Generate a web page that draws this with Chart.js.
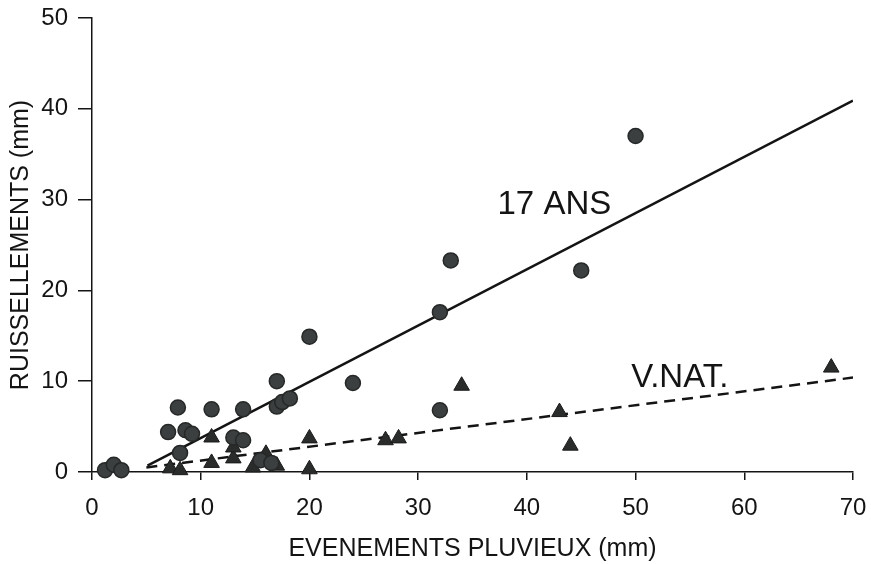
<!DOCTYPE html>
<html>
<head>
<meta charset="utf-8">
<script src="https://cdn.jsdelivr.net/npm/chart.js@4/dist/chart.umd.min.js"></script>
<style>
  html, body { margin: 0; padding: 0; background: #fff; }
  #wrap { width: 871px; height: 564px; }
</style>
</head>
<body>
<div id="wrap"><canvas id="chart"></canvas></div>
<script>
// 17 ANS plot (circles)
const ansX = [1.2, 2, 2.7, 7, 7.9, 8.1, 8.6, 9.2, 11, 13, 13.9, 13.9, 15.5, 16.5, 17, 17, 17.5, 18.2, 20, 24, 32, 32, 33, 45, 50];
const ansY = [0.2, 0.8, 0.2, 4.4, 7.1, 2.1, 4.6, 4.2, 6.9, 3.8, 3.5, 6.9, 1.3, 1.0, 10.0, 7.2, 7.7, 8.1, 14.9, 9.8, 17.6, 6.8, 23.3, 22.2, 37.0];

// V.NAT. plot (triangles)
const natX = [7.2, 8.1, 11, 11, 13, 13, 14.8, 16, 17, 20, 20, 27, 28.2, 34, 43, 44, 68];
const natY = [0.4, 0.2, 3.8, 1.0, 1.5, 2.7, 0.5, 2.0, 0.7, 3.7, 0.3, 3.5, 3.7, 9.5, 6.6, 2.9, 11.5];

// fitted lines, endpoints
const ansFitX = [5.1, 70];
const ansFitY = [0.7, 40.9];
const natFitX = [5, 70];
const natFitY = [0.5, 10.4];

const xTicks = [0, 10, 20, 30, 40, 50, 60, 70];
const yTicks = [0, 10, 20, 30, 40, 50];

const FONT = '"Liberation Sans", Arial, Helvetica, sans-serif';
const INK = '#141414';

const pts = (xs, ys) => xs.map((x, i) => ({ x, y: ys[i] }));

// text labels placed at data coords
const curveLabels = [
  { text: '17 ANS', x: 37.3, y: 28.4 },
  { text: 'V.NAT.', x: 49.6, y: 9.35 }
];

const curveLabelPlugin = {
  id: 'curveLabels',
  afterDatasetsDraw(chart) {
    const { ctx, scales } = chart;
    ctx.save();
    ctx.fillStyle = INK;
    ctx.font = '33px ' + FONT;
    ctx.textAlign = 'left';
    ctx.textBaseline = 'alphabetic';
    curveLabels.forEach(l => {
      ctx.fillText(l.text, scales.x.getPixelForValue(l.x), scales.y.getPixelForValue(l.y));
    });
    ctx.restore();
  }
};

new Chart(document.getElementById('chart'), {
  type: 'scatter',
  data: {
    datasets: [
      {
        label: '17 ANS fit',
        data: pts(ansFitX, ansFitY),
        showLine: true,
        borderColor: INK,
        borderWidth: 2.5,
        pointRadius: 0,
        order: 3
      },
      {
        label: 'V.NAT. fit',
        data: pts(natFitX, natFitY),
        showLine: true,
        borderColor: INK,
        borderWidth: 2.5,
        borderDash: [11, 7],
        pointRadius: 0,
        order: 3
      },
      {
        label: '17 ANS',
        data: pts(ansX, ansY),
        pointStyle: 'circle',
        pointRadius: 7.5,
        backgroundColor: '#3b3f3f',
        borderColor: '#262828',
        borderWidth: 1.5,
        clip: false,
        order: 1
      },
      {
        label: 'V.NAT.',
        data: pts(natX, natY),
        pointStyle: 'triangle',
        pointRadius: 9,
        backgroundColor: '#2a2c2c',
        borderColor: '#1a1a1a',
        borderWidth: 1,
        clip: false,
        order: 2
      }
    ]
  },
  options: {
    responsive: true,
    maintainAspectRatio: false,
    animation: false,
    layout: { padding: { top: 18, right: 18, left: 0, bottom: 0 } },
    plugins: {
      legend: { display: false },
      tooltip: { enabled: false }
    },
    scales: {
      x: {
        type: 'linear',
        min: 0,
        max: 70,
        afterBuildTicks: (s) => { s.ticks = xTicks.map(v => ({ value: v })); },
        afterFit: (s) => {
          s.height = 92;
          s.paddingLeft = 0;
          s.paddingRight = 0;
        },
        border: { color: INK, width: 1.5 },
        grid: { drawOnChartArea: false, color: INK, lineWidth: 1.5, tickLength: 8 },
        ticks: { color: INK, font: { family: FONT, size: 24 }, padding: 14, maxRotation: 0 },
        title: {
          display: true,
          text: 'EVENEMENTS PLUVIEUX (mm)',
          color: INK,
          font: { family: FONT, size: 25 },
          padding: { top: 0, bottom: 0 }
        }
      },
      y: {
        type: 'linear',
        min: 0,
        max: 50,
        afterBuildTicks: (s) => { s.ticks = yTicks.map(v => ({ value: v })); },
        afterFit: (s) => {
          s.width = 92;
          s.paddingTop = 0;
          s.paddingBottom = 0;
        },
        border: { color: INK, width: 1.5 },
        grid: { drawOnChartArea: false, color: INK, lineWidth: 1.5, tickLength: 14 },
        ticks: { color: INK, font: { family: FONT, size: 24 }, padding: 10 },
        title: {
          display: true,
          text: 'RUISSELLEMENTS (mm)',
          color: INK,
          font: { family: FONT, size: 25 },
          padding: { top: 6, bottom: 0 }
        }
      }
    }
  },
  plugins: [curveLabelPlugin]
});
</script>
</body>
</html>
